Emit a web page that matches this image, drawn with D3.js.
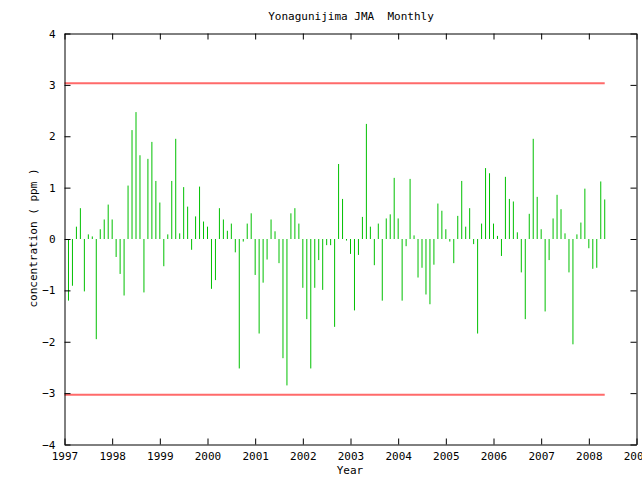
<!DOCTYPE html>
<html><head><meta charset="utf-8">
<script src="https://cdn.jsdelivr.net/npm/d3@7"></script>
<style>
html,body{margin:0;padding:0;background:#fff;}
text{font-family:"DejaVu Sans Mono",monospace;font-size:11px;fill:#000;white-space:pre;}
</style></head>
<body>
<svg id="chart" width="642" height="479"></svg>
<script>
const title = "Yonagunijima JMA  Monthly";
const xLabel = "Year";
const yLabel = "concentration ( ppm )";
const startYear = 1997;
const xTicks = [1997,1998,1999,2000,2001,2002,2003,2004,2005,2006,2007,2008,2009];
const yTicks = [-4,-3,-2,-1,0,1,2,3,4];
const limitValues = [3.03, -3.03];
// monthly anomalies from Jan 1997 to Apr 2008
const values = [
 -1.20,-0.91,0.24,0.60,-1.02,0.09,0.05,-1.95,0.19,0.38,0.67,0.38,
 -0.35,-0.68,-1.10,1.04,2.12,2.47,1.63,-1.04,1.56,1.89,1.13,0.71,
 -0.53,0.09,1.13,1.95,0.11,1.01,0.63,-0.21,0.44,1.02,0.34,0.24,
 -0.97,-0.80,0.60,0.38,0.16,0.30,-0.26,-2.52,-0.05,0.30,0.50,-0.70,
 -1.84,-0.85,-0.40,0.38,0.15,-0.47,-2.32,-2.85,0.50,0.60,0.30,-0.95,
 -1.56,-2.52,-0.95,-0.41,-0.99,-0.12,-0.12,-1.71,1.46,0.78,-0.03,-0.29,
 -1.39,-0.31,0.43,2.24,0.24,-0.51,0.30,-1.20,0.40,0.48,1.19,0.40,
 -1.20,-0.14,1.17,0.07,-0.75,-0.56,-1.08,-1.27,-0.50,0.69,0.55,0.19,
 -0.05,-0.47,0.45,1.13,0.24,0.60,-0.10,-1.84,0.30,1.38,1.28,0.30,
 0.06,-0.33,1.21,0.78,0.73,0.13,-0.65,-1.56,0.49,1.95,0.82,0.19,
 -1.41,-0.41,0.40,0.86,0.58,0.11,-0.65,-2.05,0.09,0.32,0.98,-0.18,
 -0.58,-0.56,1.12,0.77
];

const svg = d3.select("#chart");
const L = 64.5, R = 636.5, T = 33.5, B = 444.5;
const x = d3.scaleLinear().domain([1997, 2009]).range([L, R]);
const y = d3.scaleLinear().domain([-4, 4]).range([B, T]);

const data = values.map((v, i) => ({t: startYear + (i + 1) / 12, v}));
const lastT = data[data.length - 1].t;

// bars
svg.append("g").selectAll("line").data(data).join("line")
  .attr("x1", d => x(d.t)).attr("x2", d => x(d.t))
  .attr("y1", y(0)).attr("y2", d => y(d.v))
  .attr("stroke", "#00c000").attr("stroke-width", 1);

// limit lines
svg.append("g").selectAll("line").data(limitValues).join("line")
  .attr("x1", x(1997)).attr("x2", x(lastT))
  .attr("y1", d => y(d)).attr("y2", d => y(d))
  .attr("stroke", "#ff6a6a").attr("stroke-width", 2);

// frame axes with inward ticks
const tl = 6;
svg.append("g").attr("transform", `translate(0,${B})`)
  .call(d3.axisBottom(x).tickValues(xTicks).tickFormat(d3.format("d")).tickSizeInner(-tl).tickSizeOuter(0).tickPadding(8));
svg.append("g").attr("transform", `translate(0,${T})`)
  .call(d3.axisTop(x).tickValues(xTicks).tickFormat("").tickSizeInner(-tl).tickSizeOuter(0));
svg.append("g").attr("transform", `translate(${L},0)`)
  .call(d3.axisLeft(y).tickValues(yTicks).tickFormat(d3.format("d")).tickSizeInner(-tl).tickSizeOuter(0).tickPadding(9));
svg.append("g").attr("transform", `translate(${R},0)`)
  .call(d3.axisRight(y).tickValues(yTicks).tickFormat("").tickSizeInner(-tl).tickSizeOuter(0));
svg.selectAll(".domain").attr("stroke", "#000");
svg.selectAll(".tick line").attr("stroke", "#000");
svg.selectAll(".tick text").style("font-family", "DejaVu Sans Mono, monospace").style("font-size", "11px");

svg.append("text").attr("x", 351).attr("y", 20).attr("text-anchor", "middle").attr("xml:space", "preserve").text(title);
svg.append("text").attr("x", 350).attr("y", 474).attr("text-anchor", "middle").text(xLabel);
svg.append("text").attr("transform", "translate(37,238) rotate(-90)").attr("text-anchor", "middle").text(yLabel);
</script>
</body></html>
